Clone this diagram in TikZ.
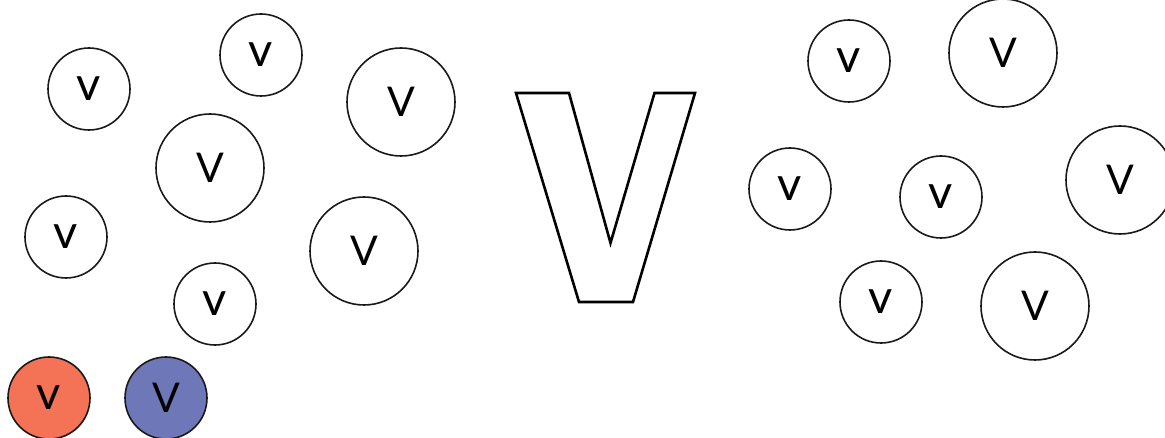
\documentclass[tikz,border=0pt]{standalone}
\usepackage{fontspec}
\setmainfont{Lato}
\definecolor{vred}{HTML}{F47255}
\definecolor{vblue}{HTML}{6E77B8}
\begin{document}
\begin{tikzpicture}[x=1pt,y=-1pt,
  small/.style={circle,draw=black!90,line width=1.6pt,minimum size=82pt,inner sep=0pt,font=\fontsize{47}{47}\selectfont},
  large/.style={circle,draw=black!90,line width=1.6pt,minimum size=108pt,inner sep=0pt,font=\fontsize{41}{41}\selectfont}]
\useasboundingbox (0,0) rectangle (1165,438);
\node[small] (s1) at (89,89) {v};
\node[small] (s2) at (261,55) {v};
\node[small] (s3) at (66,237) {v};
\node[small] (s4) at (215,304) {v};
\node[small] (s5) at (849,61) {v};
\node[small] (s6) at (790,189) {v};
\node[small] (s7) at (941,197) {v};
\node[small] (s8) at (881,302) {v};
\node[small,fill=vred] (r) at (49,398) {v};
\node[small,fill=vblue,font=\fontsize{41}{41}\selectfont] (b) at (166,398) {V};
\node[large] (l1) at (210,168) {V};
\node[large] (l2) at (401,102) {V};
\node[large] (l3) at (364,251) {V};
\node[large] (l4) at (1003,53) {V};
\node[large] (l5) at (1120,180) {V};
\node[large] (l6) at (1035,306) {V};
\draw[line width=2.6pt,line join=miter] (516,93) -- (569,93) -- (610.5,243) -- (654.5,93) -- (695,93) -- (633,302) -- (579,302) -- cycle;
\end{tikzpicture}
\end{document}
